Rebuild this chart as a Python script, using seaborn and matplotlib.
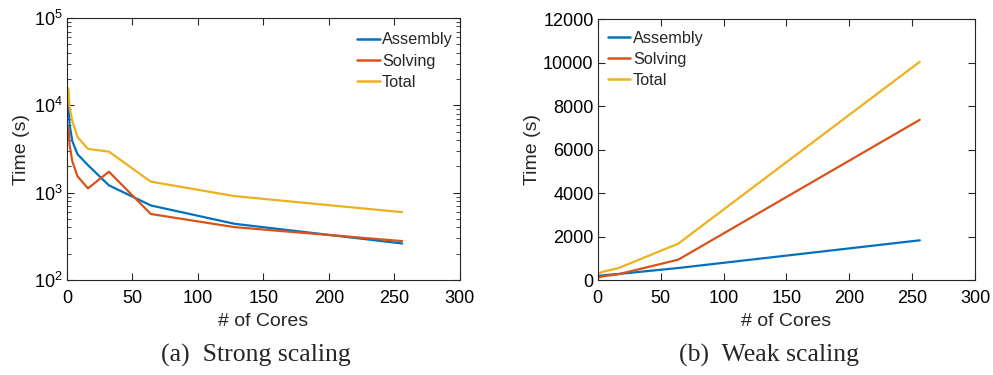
import numpy as np
import pandas as pd
import matplotlib
matplotlib.use("Agg")
import matplotlib.pyplot as plt
import seaborn as sns
from matplotlib.ticker import LogLocator, MultipleLocator

# Strong scaling (fixed problem size)
strong_cores = [1, 2, 4, 8, 16, 32, 64, 128, 256]
strong_assembly = [11000, 6000, 3900, 2760, 2065, 1213, 714, 440, 262]
strong_solving = [5600, 3500, 2300, 1540, 1120, 1740, 570, 403, 279]
strong_total = [15700, 9500, 6600, 4330, 3170, 2950, 1337, 913, 598]

# Weak scaling (problem grows with cores)
weak_cores = [1, 4, 16, 64, 256]
weak_assembly = [190, 215, 276, 552, 1826]
weak_solving = [123, 170, 261, 936, 7366]
weak_total = [307, 384, 537, 1673, 10036]

series = ["Assembly", "Solving", "Total"]
colores = {"Assembly": "#0072BD", "Solving": "#D95319", "Total": "#EDB120"}


def armar_tabla(cores, assembly, solving, total):
    partes = []
    for nombre, vals in zip(series, [assembly, solving, total]):
        partes.append(pd.DataFrame({"cores": cores, "time": vals, "serie": nombre}))
    return pd.concat(partes, ignore_index=True)


df_strong = armar_tabla(strong_cores, strong_assembly, strong_solving, strong_total)
df_weak = armar_tabla(weak_cores, weak_assembly, weak_solving, weak_total)

sns.set_style("ticks")
plt.rcParams["font.family"] = ["Liberation Sans", "DejaVu Sans"]
plt.rcParams["mathtext.fontset"] = "custom"
plt.rcParams["mathtext.rm"] = "Liberation Sans"

fig = plt.figure(figsize=(9.93, 3.75), dpi=100)
ax1 = fig.add_axes([0.0675, 0.2533, 0.3955, 0.6987])
ax2 = fig.add_axes([0.602, 0.2533, 0.380, 0.6960])

gris = "#262626"


def estilo(ax, xlab_y, ylab_x):
    for s in ax.spines.values():
        s.set_color(gris)
        s.set_linewidth(0.8)
        s.set_visible(True)
    ax.tick_params(which="both", direction="in", top=True, right=True,
                   colors=gris, labelcolor="black", labelsize=13)
    ax.tick_params(which="major", length=5, width=0.8)
    ax.tick_params(which="minor", length=3, width=0.6)
    ax.tick_params(axis="x", pad=7)
    ax.tick_params(axis="y", pad=3)
    ax.set_xlim(0, 300)
    ax.xaxis.set_major_locator(MultipleLocator(50))
    ax.set_xlabel("# of Cores", fontsize=14)
    ax.set_ylabel("Time (s)", fontsize=14)
    ax.xaxis.set_label_coords(0.5, xlab_y)
    ax.yaxis.set_label_coords(ylab_x, 0.5)


def leyenda(ax, loc, anchor):
    ley = ax.legend(loc=loc, bbox_to_anchor=anchor, frameon=False, fontsize=11.7,
                    handlelength=1.4, handletextpad=0.15, labelspacing=0.38,
                    borderaxespad=0.0, borderpad=0.0)
    for linea in ley.get_lines():
        linea.set_linewidth(1.8)


# (a) Strong scaling
sns.lineplot(data=df_strong, x="cores", y="time", hue="serie", palette=colores,
             linewidth=1.6, ax=ax1)
ax1.set_yscale("log")
ax1.set_ylim(1e2, 1e5)
ax1.yaxis.set_major_locator(LogLocator(base=10, numticks=10))
ax1.yaxis.set_minor_locator(LogLocator(base=10, subs=np.arange(2, 10), numticks=10))
estilo(ax1, -0.125, -0.095)
leyenda(ax1, "upper left", (0.738, 0.945))

# (b) Weak scaling
sns.lineplot(data=df_weak, x="cores", y="time", hue="serie", palette=colores,
             linewidth=1.6, ax=ax2)
ax2.set_ylim(0, 12000)
ax2.yaxis.set_major_locator(MultipleLocator(2000))
estilo(ax2, -0.125, -0.15)
leyenda(ax2, "upper left", (0.026, 0.955))

fig.text(0.258, 0.035, "(a)  Strong scaling", ha="center", va="baseline",
         fontsize=18.5, family=["Liberation Serif", "DejaVu Serif"])
fig.text(0.774, 0.035, "(b)  Weak scaling", ha="center", va="baseline",
         fontsize=18.5, family=["Liberation Serif", "DejaVu Serif"])

fig.savefig("out.png", dpi=100)
